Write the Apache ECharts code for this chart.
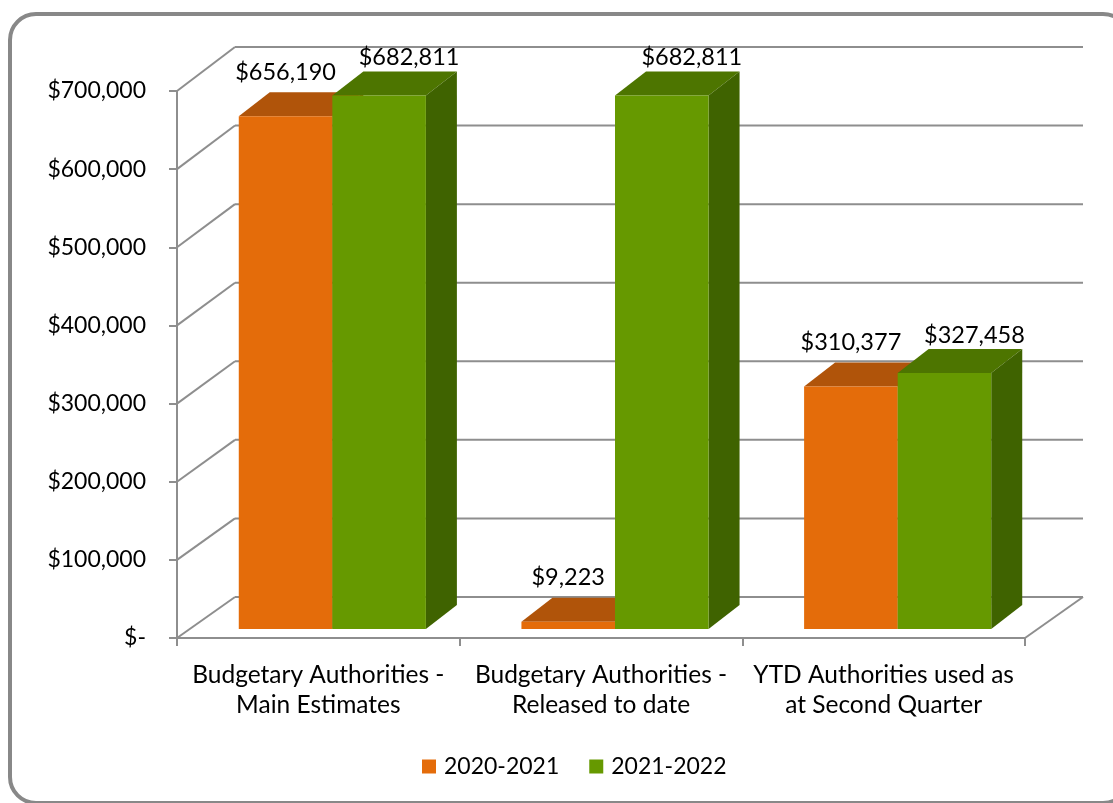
<!DOCTYPE html>
<html>
<head>
<meta charset="utf-8">
<script src="https://cdn.jsdelivr.net/npm/echarts@6/dist/echarts.min.js"></script>
<style>
html,body{margin:0;padding:0;background:#fff;}
#chart{width:1113px;height:803px;}
</style>
</head>
<body>
<div id="chart"></div>
<script>
const categories = [
  'Budgetary Authorities -\nMain Estimates',
  'Budgetary Authorities -\nReleased to date',
  'YTD Authorities used as\nat Second Quarter'
];
const seriesNames = ['2020-2021', '2021-2022'];
const values2020 = [656190, 9223, 310377];
const values2021 = [682811, 682811, 327458];
const yTicks = [0, 100000, 200000, 300000, 400000, 500000, 600000, 700000];

const FONT = 'Lato, "Open Sans", sans-serif';
const GRID_COLOR = '#8e8e8e';
const colors = {
  front: ['#E46C0A', '#669900'],
  top: ['#B0540A', '#4D7500'],
  side: ['#A04A08', '#3F6300']
};

// depth geometry (pixels)
const WALL_DX = 58, WALL_DY = -41, WALL_SCALE = 550 / 547;
const BAR_DX0 = 14, BAR_DY0 = -9;      // offset of bar front face from front plane
const BAR_DX = 31, BAR_DY = -24;       // bar depth

function fmt(v) { return v === 0 ? '$-' : '$' + v.toLocaleString('en-US'); }

const chart = echarts.init(document.getElementById('chart'), null, {renderer: 'canvas'});

function wallRender(params, api) {
  const cs = params.coordSys;
  const v = api.value(1);
  const yf = api.coord([0, v])[1];
  const base = cs.y + cs.height;
  const yb = base + WALL_DY - (base - yf) * WALL_SCALE;
  const ls = {stroke: GRID_COLOR, lineWidth: 2};
  const children = [
    {type: 'line', shape: {x1: cs.x, y1: yf, x2: cs.x + WALL_DX, y2: yb}, style: ls},
    {type: 'line', shape: {x1: cs.x + WALL_DX, y1: yb, x2: cs.x + cs.width + WALL_DX, y2: yb}, style: ls}
  ];
  if (v === 0) {
    children.push({type: 'line', shape: {x1: cs.x + cs.width, y1: base, x2: cs.x + cs.width + WALL_DX, y2: yb}, style: ls});
  }
  return {type: 'group', children: children};
}

function barRender(s) {
  return function (params, api) {
    const idx = api.value(0);
    const val = api.value(1);
    const c = api.coord([idx, val]);
    const c0 = api.coord([idx, 0]);
    const band = api.size([1, 0])[0];
    const bw = band * 0.331;
    const left = c[0] - bw + s * bw + BAR_DX0;
    const top = c[1] + BAR_DY0;
    const bot = c0[1] + BAR_DY0;
    const right = left + bw;
    return {
      type: 'group',
      children: [
        {type: 'polygon', shape: {points: [[left, top], [right, top], [right + BAR_DX, top + BAR_DY], [left + BAR_DX, top + BAR_DY]]},
          style: {fill: colors.top[s]}},
        {type: 'polygon', shape: {points: [[right, top], [right + BAR_DX, top + BAR_DY], [right + BAR_DX, bot + BAR_DY], [right, bot]]},
          style: {fill: colors.side[s]}},
        {type: 'rect', shape: {x: left, y: top, width: bw, height: bot - top},
          style: {fill: colors.front[s]}},
        {type: 'text', x: left + bw / 2 + (s ? 30 : 0), y: top + BAR_DY + (s ? -14 : -20),
          style: {text: '$' + val.toLocaleString('en-US'), fill: '#000', font: '23.5px ' + FONT,
            align: 'center', verticalAlign: 'middle'}}
      ]
    };
  };
}

const option = {
  backgroundColor: '#fff',
  animation: false,
  textStyle: {fontFamily: FONT},
  graphic: [{
    type: 'rect', z: -10,
    shape: {x: 10, y: 14, width: 1119, height: 789, r: 26},
    style: {fill: 'none', stroke: '#888888', lineWidth: 4}
  }],
  grid: {left: 177, right: 88, top: 91, bottom: 165, containLabel: false},
  legend: {
    data: seriesNames,
    left: 422, top: 755, padding: 0,
    icon: 'rect', itemWidth: 14, itemHeight: 14, itemGap: 30,
    textStyle: {fontSize: 23, color: '#000', fontFamily: FONT, padding: [0, 0, 0, 3]}
  },
  xAxis: {
    type: 'category',
    data: categories,
    axisLine: {lineStyle: {color: GRID_COLOR, width: 2}},
    axisTick: {show: true, length: 8, interval: 0, alignWithLabel: false, lineStyle: {color: GRID_COLOR, width: 2}},
    axisLabel: {interval: 0, fontSize: 24.5, lineHeight: 30, margin: 22, color: '#000', fontFamily: FONT},
    splitLine: {show: false}
  },
  yAxis: {
    type: 'value',
    min: 0, max: 700000, interval: 100000,
    axisLine: {show: true, lineStyle: {color: GRID_COLOR, width: 2}},
    axisTick: {show: true, length: 8, lineStyle: {color: GRID_COLOR, width: 2}},
    axisLabel: {fontSize: 23, margin: 31, color: '#000', fontFamily: FONT, formatter: fmt},
    splitLine: {show: false}
  },
  series: [
    {
      type: 'custom', name: 'walls', z: 1, silent: true,
      renderItem: wallRender,
      encode: {x: 0, y: 1},
      data: yTicks.map(v => [0, v])
    },
    {
      type: 'custom', name: seriesNames[0], z: 2,
      itemStyle: {color: colors.front[0]},
      renderItem: barRender(0),
      encode: {x: 0, y: 1},
      data: values2020.map((v, i) => [i, v])
    },
    {
      type: 'custom', name: seriesNames[1], z: 3,
      itemStyle: {color: colors.front[1]},
      renderItem: barRender(1),
      encode: {x: 0, y: 1},
      data: values2021.map((v, i) => [i, v])
    }
  ]
};
chart.setOption(option);
</script>
</body>
</html>
